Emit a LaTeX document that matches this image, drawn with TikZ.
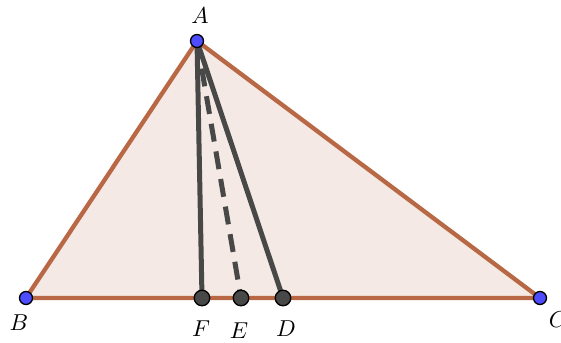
\documentclass[tikz,border=0pt]{standalone}
\usepackage{tikz}
\definecolor{edgebrown}{RGB}{184,104,68}
\definecolor{fillpink}{RGB}{244,233,228}
\definecolor{segdark}{RGB}{72,72,72}
\definecolor{ptblue}{RGB}{77,77,255}
\newcommand{\ptlab}[1]{\scalebox{2.3}{$#1$}}
\tikzset{
  tri/.style={draw=edgebrown,line width=4.3pt,line join=round,fill=fillpink},
  seg/.style={draw=segdark,line width=5pt},
  bpt/.style={circle,fill=ptblue,draw=black,line width=1.3pt,minimum size=13pt,inner sep=0pt},
  gpt/.style={circle,fill=segdark,draw=black,line width=1.3pt,minimum size=15.5pt,inner sep=0pt},
  lab/.style={inner sep=0pt}
}
\begin{document}
\begin{tikzpicture}[x=1pt,y=-1pt]
\useasboundingbox (0,0) rectangle (561,342);
\coordinate (A) at (197,41);
\coordinate (B) at (26,298);
\coordinate (C) at (540,298);
\coordinate (F) at (202,298);
\coordinate (E) at (241,298);
\coordinate (D) at (283,298);
\draw[tri] (A) -- (B) -- (C) -- cycle;
\draw[seg] (A) -- (F);
\draw[seg] (A) -- (D);
\draw[seg,dash pattern=on 18pt off 10pt] (A) -- (E);
\node[gpt] (nF) at (F) {};
\node[gpt] (nE) at (E) {};
\node[gpt] (nD) at (D) {};
\node[bpt] (nA) at (A) {};
\node[bpt] (nB) at (B) {};
\node[bpt] (nC) at (C) {};
\node[lab] (lA) at (200,16) {\ptlab{A}};
\node[lab] (lB) at (19,323) {\ptlab{B}};
\node[lab] (lC) at (558,320) {\ptlab{C}};
\node[lab] (lF) at (201,329) {\ptlab{F}};
\node[lab] (lE) at (239,331) {\ptlab{E}};
\node[lab] (lD) at (286,329) {\ptlab{D}};
\end{tikzpicture}
\end{document}
